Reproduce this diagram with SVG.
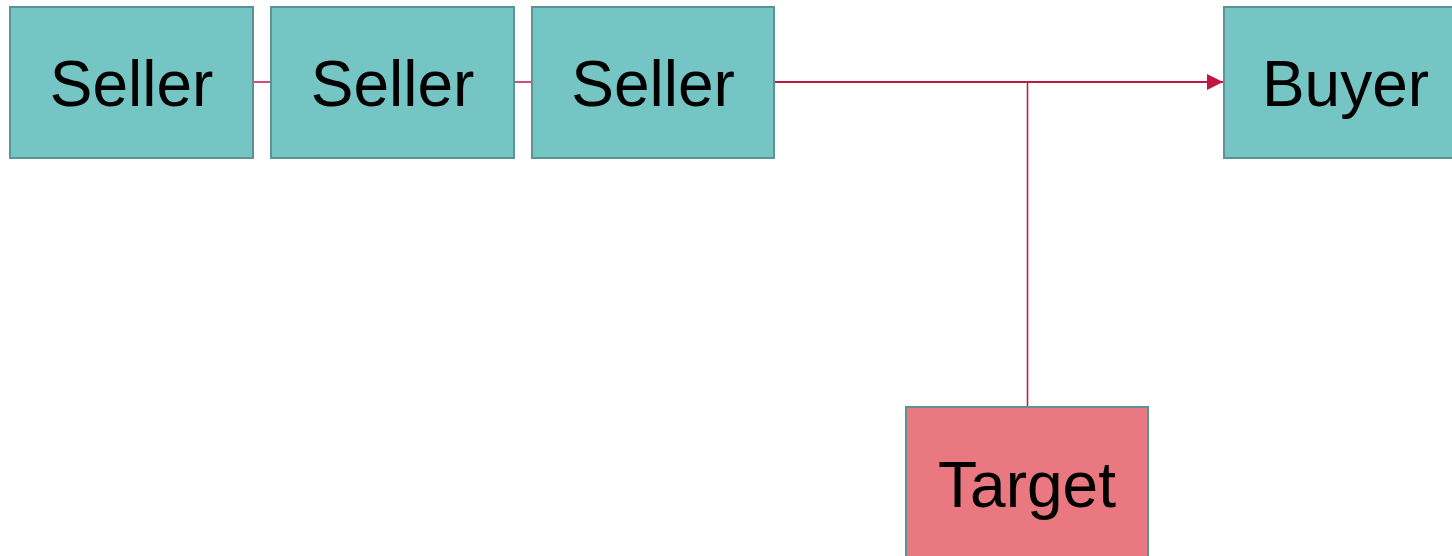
<svg xmlns="http://www.w3.org/2000/svg" width="1452" height="556" viewBox="0 0 1452 556">
<style>
.box{fill:#75c5c5;stroke:#5a9494;stroke-width:2}
.tgt{fill:#e97880;stroke:#5a9494;stroke-width:2}
.lbl{font-family:"Liberation Sans",Arial,sans-serif;font-size:64px;fill:#000;text-anchor:middle}
.ln{stroke:#c0163f;fill:none}
</style>
<defs>
<marker id="arrB" markerWidth="16" markerHeight="16" refX="16" refY="8" orient="auto" markerUnits="userSpaceOnUse" viewBox="0 0 16 16">
<path d="M0,0 L16,8 L0,16 z" fill="#c0163f"/>
</marker>
</defs>
<rect width="1452" height="556" fill="#fff"/>
<g id="connectors">
<line class="ln" x1="253" y1="82" x2="271" y2="82" stroke-width="1.5"/>
<line class="ln" x1="514" y1="82" x2="532" y2="82" stroke-width="1.5"/>
<line class="ln" x1="774" y1="82" x2="1223" y2="82" stroke-width="2" marker-end="url(#arrB)"/>
<line class="ln" x1="1027.5" y1="406" x2="1027.5" y2="82" stroke-width="1.5"/>
</g>
<g id="seller1"><rect class="box" x="10" y="7" width="243" height="151"/><text class="lbl" x="131.5" y="106">Seller</text></g>
<g id="seller2"><rect class="box" x="271" y="7" width="243" height="151"/><text class="lbl" x="392.5" y="106">Seller</text></g>
<g id="seller3"><rect class="box" x="532" y="7" width="242" height="151"/><text class="lbl" x="653" y="106">Seller</text></g>
<g id="buyer"><rect class="box" x="1224" y="7" width="243" height="151"/><text class="lbl" x="1345.5" y="106">Buyer</text></g>
<g id="target"><rect class="tgt" x="906" y="407" width="242" height="151"/><text class="lbl" x="1027" y="507">Target</text></g>
</svg>
